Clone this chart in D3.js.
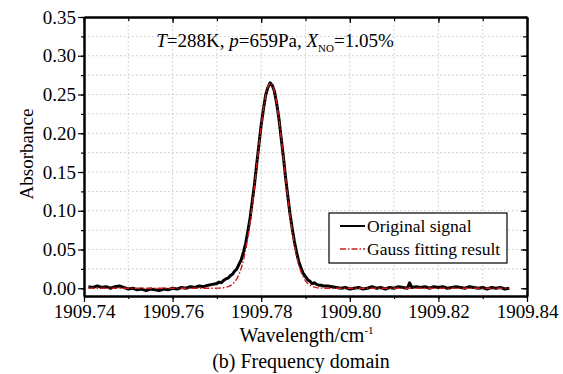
<!DOCTYPE html>
<meta charset="utf-8">
<title>Frequency domain</title>
<style>
  body { margin: 0; background: #fff; }
  svg { display: block; }
  svg text { font-family: "Liberation Serif", "Times New Roman", "DejaVu Serif", serif; }
  .grid line { stroke: #c8c8c8; stroke-width: 1; stroke-dasharray: 1.5,2.5; }
</style>
<body>
<div id="chart"></div>
<script src="https://d3js.org/d3.v7.min.js"></script>
<script>
// ----- data -----
var xTicks = [1909.74, 1909.76, 1909.78, 1909.80, 1909.82, 1909.84];
var yTicks = [0.00, 0.05, 0.10, 0.15, 0.20, 0.25, 0.30, 0.35];

// measured signal (wavelength, absorbance)
var signalWave = [
  1909.741, 1909.742, 1909.743, 1909.744, 1909.745, 1909.746, 1909.747, 1909.748, 1909.749, 1909.750,
  1909.751, 1909.752, 1909.753, 1909.754, 1909.755, 1909.756, 1909.757, 1909.758, 1909.759, 1909.760,
  1909.761, 1909.762, 1909.763, 1909.764, 1909.765, 1909.766, 1909.767, 1909.768, 1909.769,
  1909.7700, 1909.7705, 1909.7710, 1909.7715, 1909.7720, 1909.7725, 1909.7730, 1909.7735, 1909.7740, 1909.7745,
  1909.7750, 1909.7755, 1909.7760, 1909.7765, 1909.7770, 1909.7775, 1909.7780, 1909.7785, 1909.7790, 1909.7795,
  1909.7800, 1909.7805, 1909.7810, 1909.7815, 1909.7820, 1909.7825, 1909.7830, 1909.7835, 1909.7840, 1909.7845,
  1909.7850, 1909.7855, 1909.7860, 1909.7865, 1909.7870, 1909.7875, 1909.7880, 1909.7885, 1909.7890, 1909.7895,
  1909.7900, 1909.7905, 1909.7910, 1909.7915, 1909.7920, 1909.7925, 1909.7930, 1909.7935, 1909.7940,
  1909.795, 1909.796, 1909.797, 1909.798, 1909.799, 1909.800, 1909.801, 1909.802, 1909.803, 1909.804,
  1909.805, 1909.806, 1909.807, 1909.808, 1909.809, 1909.810, 1909.811, 1909.812, 1909.813, 1909.8135,
  1909.814, 1909.815, 1909.816, 1909.817, 1909.818, 1909.819, 1909.820, 1909.821, 1909.822, 1909.823,
  1909.824, 1909.825, 1909.826, 1909.827, 1909.828, 1909.829, 1909.830, 1909.831, 1909.832, 1909.833,
  1909.834, 1909.835, 1909.836
];
var signalAbs = [
  0.002, 0.001, 0.003, 0.001, 0.002, 0.000, 0.002, 0.003, 0.001, -0.001,
  0.000, -0.002, -0.001, -0.003, -0.001, -0.002, -0.003, -0.001, -0.002, 0.000,
  -0.001, 0.001, 0.000, 0.002, 0.001, 0.003, 0.002, 0.004, 0.005,
  0.006, 0.008, 0.007, 0.010, 0.012, 0.013, 0.016, 0.018, 0.022, 0.025,
  0.031, 0.037, 0.047, 0.058, 0.074, 0.091, 0.113, 0.135, 0.161, 0.186,
  0.211, 0.231, 0.249, 0.259, 0.265, 0.262, 0.254, 0.238, 0.219, 0.194,
  0.170, 0.143, 0.119, 0.096, 0.077, 0.060, 0.046, 0.034, 0.026, 0.019,
  0.015, 0.011, 0.009, 0.006, 0.007, 0.005, 0.004, 0.004, 0.003,
  0.003, 0.002, 0.001, 0.000, 0.001, -0.001, 0.000, 0.001, -0.001, 0.000,
  0.002, 0.000, 0.001, -0.001, 0.001, 0.000, 0.002, 0.001, 0.000, 0.007,
  0.001, 0.002, 0.001, 0.002, 0.000, 0.002, 0.001, 0.002, 0.000, 0.001,
  0.002, 0.001, 0.000, 0.002, 0.001, 0.000, 0.001, -0.001, 0.001, 0.000,
  0.001, -0.001, 0.000
];

// Gauss fitting result (wavelength, absorbance)
var fitWave = [
  1909.741, 1909.760, 1909.7650, 1909.7700, 1909.7705, 1909.7710, 1909.7715, 1909.7720, 1909.7725, 1909.7730,
  1909.7735, 1909.7740, 1909.7745, 1909.7750, 1909.7755, 1909.7760, 1909.7765, 1909.7770, 1909.7775, 1909.7780,
  1909.7785, 1909.7790, 1909.7795, 1909.7800, 1909.7805, 1909.7810, 1909.7815, 1909.7820, 1909.7825, 1909.7830,
  1909.7835, 1909.7840, 1909.7845, 1909.7850, 1909.7855, 1909.7860, 1909.7865, 1909.7870, 1909.7875, 1909.7880,
  1909.7885, 1909.7890, 1909.7895, 1909.7900, 1909.7905, 1909.7910, 1909.7915, 1909.7920, 1909.7925, 1909.7930,
  1909.7940, 1909.7950, 1909.810, 1909.836
];
var fitAbs = [
  0.0000, 0.0000, 0.0000, 0.0001, 0.0002, 0.0004, 0.0007, 0.0012, 0.0020, 0.0032,
  0.0051, 0.0080, 0.0121, 0.0180, 0.0259, 0.0363, 0.0497, 0.0661, 0.0856, 0.1080,
  0.1327, 0.1586, 0.1847, 0.2094, 0.2311, 0.2484, 0.2600, 0.2649, 0.2627, 0.2538,
  0.2387, 0.2185, 0.1949, 0.1691, 0.1429, 0.1176, 0.0942, 0.0735, 0.0559, 0.0413,
  0.0298, 0.0209, 0.0142, 0.0095, 0.0061, 0.0039, 0.0024, 0.0014, 0.0008, 0.0004,
  0.0001, 0.0000, 0.0000, 0.0000
];

var legendLabels = ["Original signal", "Gauss fitting result"];

// ----- layout -----
var width = 563, height = 374;
var margin = {top: 17, right: 36, bottom: 78, left: 84};
var w = width - margin.left - margin.right,
    h = height - margin.top - margin.bottom;
var serif = "\"Liberation Serif\", \"Times New Roman\", \"DejaVu Serif\", serif";

var svg = d3.select("#chart").append("svg")
  .attr("width", width)
  .attr("height", height)
  .attr("font-family", serif);

var g = svg.append("g").attr("transform", "translate(" + margin.left + "," + margin.top + ")");

var x = d3.scaleLinear().domain([1909.74, 1909.84]).range([0, w]);
var y = d3.scaleLinear().domain([-0.01, 0.35]).range([h, 0]);

// minor values (half steps)
var xMinor = d3.range(0, 11).map(function (i) { return 1909.74 + i * 0.01; });
var yMinor = d3.range(0, 15).map(function (i) { return i * 0.025; });

// grid
var grid = g.append("g").attr("class", "grid");
grid.selectAll(".gx").data(xMinor.slice(1, -1)).enter().append("line")
  .attr("x1", function (d) { return x(d); }).attr("x2", function (d) { return x(d); })
  .attr("y1", 0).attr("y2", h);
grid.selectAll(".gy").data(yMinor.slice(1, -1)).enter().append("line")
  .attr("x1", 0).attr("x2", w)
  .attr("y1", function (d) { return y(d); }).attr("y2", function (d) { return y(d); });

// curves
var line = d3.line()
  .x(function (d) { return x(d[0]); })
  .y(function (d) { return y(d[1]); });

var signal = signalWave.map(function (d, i) { return [d, signalAbs[i]]; });
var fit = fitWave.map(function (d, i) { return [d, fitAbs[i]]; });

g.append("path").datum(signal)
  .attr("d", line)
  .attr("fill", "none")
  .attr("stroke", "#000")
  .attr("stroke-width", 3)
  .attr("stroke-linejoin", "round");

g.append("path").datum(fit)
  .attr("d", line)
  .attr("fill", "none")
  .attr("stroke", "#d01c1c")
  .attr("stroke-width", 1.4)
  .attr("stroke-dasharray", "6,2,1.5,2");

// axes
function styleAxis(sel) {
  sel.attr("font-family", serif).attr("font-size", 19);
  sel.select(".domain").attr("stroke", "#000").attr("stroke-width", 2);
  sel.selectAll(".tick line").attr("stroke", "#000").attr("stroke-width", 1.2);
  sel.selectAll("text").attr("fill", "#000");
}

var fmt = d3.format(".2f");

// minor ticks first
g.append("g").attr("transform", "translate(0," + h + ")")
  .call(d3.axisBottom(x).tickValues(xMinor).tickSize(3).tickFormat("").tickSizeOuter(0))
  .call(styleAxis);
g.append("g")
  .call(d3.axisLeft(y).tickValues(yMinor).tickSize(3).tickFormat("").tickSizeOuter(0))
  .call(styleAxis);
g.append("g")
  .call(d3.axisTop(x).tickValues(xMinor).tickSize(-4).tickFormat("").tickSizeOuter(0))
  .call(styleAxis);
g.append("g").attr("transform", "translate(" + w + ",0)")
  .call(d3.axisRight(y).tickValues(yMinor).tickSize(-4).tickFormat("").tickSizeOuter(0))
  .call(styleAxis);

// major ticks with labels
g.append("g").attr("transform", "translate(0," + h + ")")
  .call(d3.axisBottom(x).tickValues(xTicks).tickSize(6).tickPadding(3).tickFormat(fmt).tickSizeOuter(0))
  .call(styleAxis);
g.append("g")
  .call(d3.axisLeft(y).tickValues(yTicks).tickSize(6).tickPadding(2).tickFormat(fmt).tickSizeOuter(0))
  .call(styleAxis);
g.append("g")
  .call(d3.axisTop(x).tickValues(xTicks).tickSize(-6).tickFormat("").tickSizeOuter(0))
  .call(styleAxis);
g.append("g").attr("transform", "translate(" + w + ",0)")
  .call(d3.axisRight(y).tickValues(yTicks).tickSize(-6).tickFormat("").tickSizeOuter(0))
  .call(styleAxis);

// annotation
var note = g.append("text")
  .attr("x", 191).attr("y", 30)
  .attr("text-anchor", "middle")
  .attr("font-size", 19);
note.append("tspan").attr("font-style", "italic").text("T");
note.append("tspan").text("=288K, ");
note.append("tspan").attr("font-style", "italic").text("p");
note.append("tspan").text("=659Pa, ");
note.append("tspan").attr("font-style", "italic").text("X");
note.append("tspan").attr("font-size", 11).attr("dy", 5).text("NO");
note.append("tspan").attr("dy", -5).text("=1.05%");

// legend
var leg = g.append("g").attr("transform", "translate(245,196)");
leg.append("rect")
  .attr("width", 178).attr("height", 50)
  .attr("fill", "#fff").attr("stroke", "#000").attr("stroke-width", 1.2);
var rows = leg.selectAll(".row").data(legendLabels).enter().append("g")
  .attr("transform", function (d, i) { return "translate(0," + (13 + i * 23) + ")"; });
rows.append("line")
  .attr("x1", 11).attr("x2", 36).attr("y1", 0).attr("y2", 0)
  .attr("stroke", function (d, i) { return i === 0 ? "#000" : "#d01c1c"; })
  .attr("stroke-width", function (d, i) { return i === 0 ? 2 : 1.4; })
  .attr("stroke-dasharray", function (d, i) { return i === 0 ? null : "6,2,1.5,2"; });
rows.append("text")
  .attr("x", 38).attr("y", 6)
  .attr("font-size", 17.5)
  .text(function (d) { return d; });

// axis titles
var xt = svg.append("text")
  .attr("x", margin.left + w / 2 + 1).attr("y", 342)
  .attr("text-anchor", "middle")
  .attr("font-size", 20);
xt.append("tspan").text("Wavelength/cm");
xt.append("tspan").attr("font-size", 11).attr("dy", -8).text("-1");

svg.append("text")
  .attr("transform", "translate(33," + 154 + ") rotate(-90)")
  .attr("text-anchor", "middle")
  .attr("font-size", 19)
  .text("Absorbance");

svg.append("text")
  .attr("x", 301).attr("y", 368)
  .attr("text-anchor", "middle")
  .attr("font-size", 20)
  .text("(b) Frequency domain");
</script>
</body>
